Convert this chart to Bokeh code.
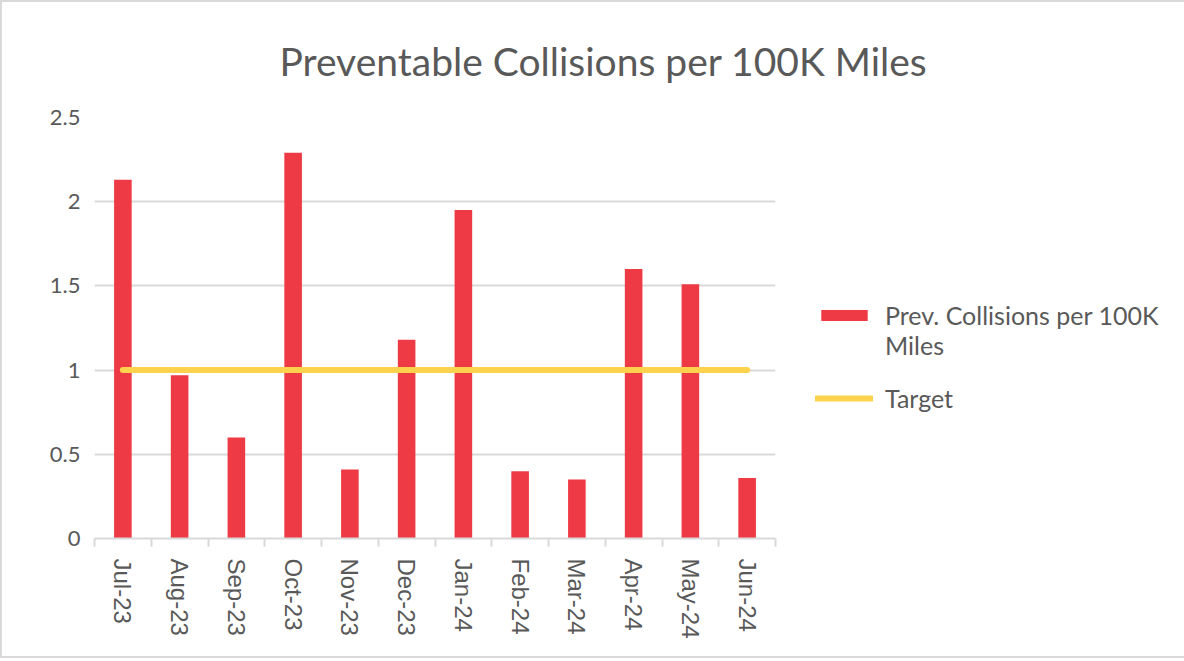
from bokeh.plotting import figure
from bokeh.models import FixedTicker, Legend, LegendItem, ColumnDataSource
from bokeh.embed import file_html
from bokeh.resources import INLINE
import numpy as np

months = ["Jul-23", "Aug-23", "Sep-23", "Oct-23", "Nov-23", "Dec-23",
          "Jan-24", "Feb-24", "Mar-24", "Apr-24", "May-24", "Jun-24"]
collisions = [2.13, 0.97, 0.60, 2.29, 0.41, 1.18, 1.95, 0.40, 0.35, 1.60, 1.51, 0.36]
target = [1.0] * 12

pos = np.arange(len(months)) + 0.5
src = ColumnDataSource(dict(x=pos, y=collisions, t=target, m=months))

GREY = "#595959"
FONT = "Lato"

p = figure(width=1176, height=654, frame_width=681, frame_height=421,
           output_backend="svg", toolbar_location=None,
           x_range=(0, len(months)), y_range=(0, 2.5),
           min_border_left=92, min_border_right=403, min_border_top=113, min_border_bottom=118)
p.styles = {"border": "2px solid #d9d9d9"}
p.outline_line_color = None

bars = p.vbar(x="x", top="y", width=0.31, source=src, fill_color="#EE3A44", line_color=None)
line = p.line(x="x", y="t", source=src, line_color="#FFD24D", line_width=6, line_cap="round")

p.title.text = "Preventable Collisions per 100K Miles"
p.title.align = "left"
p.title.offset = 185
p.title.standoff = 67
p.title.text_font = FONT
p.title.text_font_size = "39px"
p.title.text_font_style = "normal"
p.title.text_color = GREY

# y axis
p.yaxis.ticker = FixedTicker(ticks=[0, 0.5, 1, 1.5, 2, 2.5])
p.yaxis.major_label_overrides = {0: "0", 1: "1", 2: "2"}
p.yaxis.axis_line_color = None
p.yaxis.major_tick_line_color = None
p.yaxis.minor_tick_line_color = None
p.yaxis.major_label_text_font = FONT
p.yaxis.major_label_text_font_size = "22px"
p.yaxis.major_label_text_color = GREY
p.yaxis.major_label_standoff = 8

p.ygrid.grid_line_color = "#d9d9d9"
p.ygrid.grid_line_width = 2
p.xgrid.grid_line_color = None

# x axis
p.xaxis.ticker = FixedTicker(ticks=list(pos), minor_ticks=list(range(len(months) + 1)))
p.xaxis.major_label_overrides = {float(x): m for x, m in zip(pos, months)}
p.xaxis.major_tick_out = 0
p.xaxis.major_tick_in = 0
p.xaxis.minor_tick_out = 8
p.xaxis.minor_tick_in = 0
p.xaxis.minor_tick_line_color = "#d9d9d9"
p.xaxis.minor_tick_line_width = 2
p.xaxis.axis_line_color = "#d9d9d9"
p.xaxis.axis_line_width = 2
p.xaxis.major_label_orientation = "vertical"
p.xaxis.major_label_text_font = "Liberation Sans"
p.xaxis.major_label_text_font_size = "24px"
p.xaxis.major_label_text_color = GREY
p.xaxis.major_label_standoff = 12

legend = Legend(items=[
    LegendItem(label="\u00a0\nPrev. Collisions per 100K\nMiles", renderers=[bars]),
    LegendItem(label="Target", renderers=[line]),
], location=(40, 125))
legend.glyph_width = 58
legend.glyph_height = 14
legend.label_standoff = 12
legend.label_text_font = FONT
legend.label_text_font_size = "25px"
legend.label_text_color = GREY
legend.border_line_color = None
legend.background_fill_alpha = 0
legend.padding = 0
legend.margin = 0
legend.spacing = 23
p.add_layout(legend, "right")

open("out.html", "w").write(file_html(p, INLINE))
